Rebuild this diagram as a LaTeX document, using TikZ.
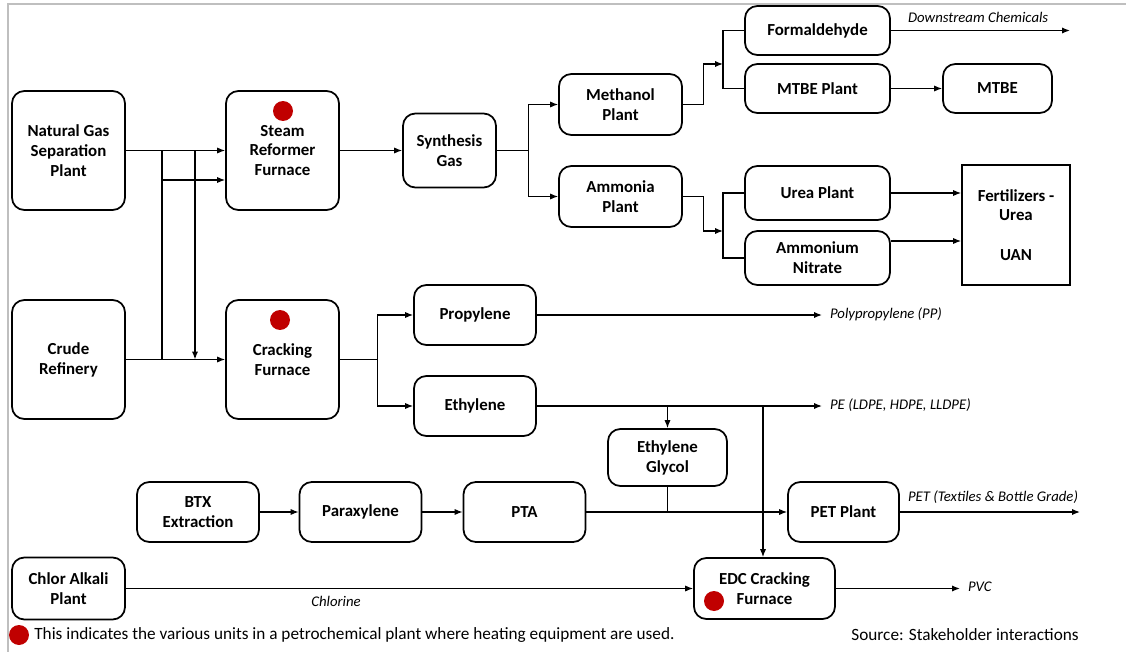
\documentclass[tikz,border=0pt]{standalone}
\usepackage{fontspec}
\setmainfont{Carlito}
\usetikzlibrary{arrows.meta}
\definecolor{heatred}{RGB}{192,0,0}

\begin{document}
\begin{tikzpicture}[x=0.02cm,y=-0.02cm]
\tikzstyle{unit}=[draw,rounded corners=7pt,line width=1pt,align=center,inner sep=2pt,font=\fontsize{9.6}{11.3}\selectfont\bfseries]
\tikzstyle{flow}=[-{Latex[length=4.5pt,width=3.5pt]},line width=0.7pt]
\tikzstyle{pipe}=[line width=0.7pt]
\tikzstyle{product}=[font=\fontsize{8.4}{9}\selectfont\itshape,inner sep=1pt]
\tikzstyle{heat}=[circle,fill=heatred,minimum size=0.4cm,inner sep=0pt]
\useasboundingbox (0,0) rectangle (1126,652);
\draw[black!25,line width=1.2pt] (8,652) -- (8,4) -- (1126,4);

% feed and furnaces
\node[unit,minimum width=2.26cm,minimum height=2.38cm] (ngs) at (68.5,150.5) {Natural Gas\\Separation\\Plant};
\node[unit,minimum width=2.26cm,minimum height=2.38cm] (crude) at (68.5,359.5) {Crude\\Refinery};
\node[unit,minimum width=2.26cm,minimum height=2.38cm] (steam) at (282.5,150.5) {Steam\\Reformer\\Furnace};
\node[unit,minimum width=2.26cm,minimum height=2.38cm] (crack) at (282.5,359.5) {Cracking\\Furnace};
\node[unit,minimum width=1.86cm,minimum height=1.48cm] (syngas) at (449.5,150.5) {Synthesis\\Gas};

% syngas chain
\node[unit,minimum width=2.46cm,minimum height=1.22cm] (meth) at (620.5,104.5) {Methanol\\Plant};
\node[unit,minimum width=2.46cm,minimum height=1.22cm] (ammo) at (620.5,196.5) {Ammonia\\Plant};
\node[unit,minimum width=2.9cm,minimum height=0.98cm] (form) at (817.5,30.5) {Formaldehyde};
\node[unit,minimum width=2.9cm,minimum height=0.98cm] (mtbep) at (817.5,88.5) {MTBE Plant};
\node[unit,minimum width=2.18cm,minimum height=0.98cm] (mtbe) at (997.5,88.5) {MTBE};
\node[unit,minimum width=2.9cm,minimum height=1.08cm] (urea) at (817.5,193) {Urea Plant};
\node[unit,minimum width=2.9cm,minimum height=1.08cm] (an) at (817.5,258) {Ammonium\\Nitrate};
\node[unit,sharp corners,minimum width=2.16cm,minimum height=2.4cm] (fert) at (1016,225) {Fertilizers -\\Urea\\[11.3pt]UAN};

% olefins and aromatics
\node[unit,minimum width=2.44cm,minimum height=1.2cm] (prop) at (475,315) {Propylene};
\node[unit,minimum width=2.44cm,minimum height=1.2cm] (eth) at (475,406) {Ethylene};
\node[unit,minimum width=2.38cm,minimum height=1.14cm] (eg) at (667.5,457.5) {Ethylene\\Glycol};
\node[unit,minimum width=2.44cm,minimum height=1.2cm] (btx) at (198,512) {BTX\\Extraction};
\node[unit,minimum width=2.44cm,minimum height=1.2cm] (para) at (360.5,512) {Paraxylene};
\node[unit,minimum width=2.44cm,minimum height=1.2cm] (pta) at (524.5,512) {PTA};
\node[unit,minimum width=2.22cm,minimum height=1.2cm] (pet) at (843.5,512) {PET Plant};
\node[unit,minimum width=2.26cm,minimum height=1.24cm] (chlor) at (68.5,588.5) {Chlor Alkali\\Plant};
\node[unit,minimum width=2.82cm,minimum height=1.22cm] (edc) at (764.5,588.5) {EDC Cracking\\Furnace};

% heating units
\node[heat] (dot1) at (283,111) {};
\node[heat] (dot2) at (280,320) {};
\node[heat] (dot3) at (714,601) {};

% feed lines
\coordinate (ja) at (162,150.5);
\coordinate (jb) at (195,150.5);
\coordinate (jc) at (162,180);
\draw[flow] (ngs) -- (steam);
\draw[pipe] (ja) -- (ja |- crude);
\draw[flow] (jb) -- (jb |- crude);
\draw[flow] (jc) -- (jc -| steam.west);
\draw[flow] (crude) -- (crack);
\draw[flow] (steam) -- (syngas);

% syngas lines
\draw[flow] (syngas.east) -- ++(32,0) |- (meth.west);
\draw[flow] (syngas.east) -- ++(32,0) |- (ammo.west);
\coordinate (jm) at (723,64);
\coordinate (jn) at (723,231);
\draw[flow] (meth.east) -- ++(21,0) |- (jm);
\draw[pipe] (form.west) -| (jm) |- (mtbep.west);
\draw[flow] (ammo.east) -- ++(21,0) |- (jn);
\draw[pipe] (urea.west) -| (jn) |- (an.west);
\coordinate (dsc) at (1070,30.5);
\draw[flow] (form.east) -- (dsc);
\node[product,anchor=south west] (dslbl) at (906,25) {Downstream Chemicals};
\draw[flow] (mtbep) -- (mtbe);
\draw[flow] (urea.east) -- (urea.east -| fert.west);
\coordinate (ya) at (0,241);
\draw[flow] (an.east |- ya) -- (fert.west |- ya);

% cracker lines
\draw[flow] (crack.east) -- ++(38,0) |- (prop.west);
\draw[flow] (crack.east) -- ++(38,0) |- (eth.west);
\coordinate (ppend) at (822,315);
\draw[flow] (prop.east) -- (ppend);
\node[product,anchor=west] (pplbl) at (828,314) {Polypropylene (PP)};
\coordinate (peend) at (822,406);
\draw[flow] (eth.east) -- (peend);
\node[product,anchor=west] (pelbl) at (828,405) {PE (LDPE, HDPE, LLDPE)};
\draw[flow] (eth.east -| eg.north) -- (eg.north);
\coordinate (je) at (763,406);
\draw[flow] (je) -- (je |- edc.north);

% aromatics lines
\draw[flow] (btx) -- (para);
\draw[flow] (para) -- (pta);
\draw[flow] (pta) -- (pet);
\draw[pipe] (eg.south) -- (eg.south |- pta.east);
\coordinate (petend) at (1080,512);
\draw[flow] (pet) -- (petend);
\node[product,anchor=south west] (petlbl) at (906,506) {PET (Textiles \& Bottle Grade)};
\draw[flow] (chlor) -- (edc);
\node[product] (cllbl) at (336,601) {Chlorine};
\coordinate (pvcend) at (960,588.5);
\draw[flow] (edc) -- (pvcend);
\node[product,anchor=west] (pvclbl) at (966,587) {PVC};

% legend
\node[heat] (dot4) at (19,635) {};
\node[anchor=west,inner sep=0pt,font=\fontsize{9.8}{11}\selectfont] (legend) at (34,635) {This indicates the various units in a petrochemical plant where heating equipment are used.};
\node[anchor=east,inner sep=0pt,font=\fontsize{9.8}{11}\selectfont] (source) at (1079,635) {Source: Stakeholder interactions};
\end{tikzpicture}
\end{document}
